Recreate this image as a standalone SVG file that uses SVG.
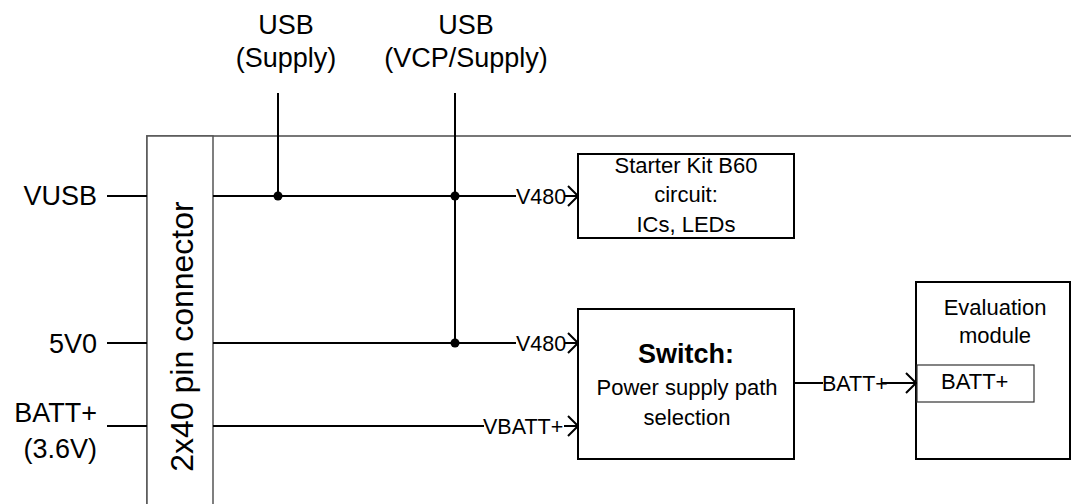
<svg xmlns="http://www.w3.org/2000/svg" width="1071" height="504" viewBox="0 0 1071 504">
<defs>
<style>
text{font-family:"Liberation Sans",Arial,sans-serif;fill:#000}
.big{font-size:27px}
.mid{font-size:22px}
.sm{font-size:21.5px}
.w{stroke:#000;stroke-width:2;fill:none}
.box{stroke:#000;stroke-width:2;fill:#fff}
.dot{fill:#000}
</style>
<marker id="arr" viewBox="0 0 12 22" refX="11" refY="11" markerWidth="12" markerHeight="22" markerUnits="userSpaceOnUse" orient="auto">
<path d="M1,1 L11,11 L1,21" fill="none" stroke="#000" stroke-width="2"/>
</marker>
</defs>
<rect width="1071" height="504" fill="#fff"/>
<g id="board">
<path d="M147,504 V136 H1071" fill="none" stroke="#777" stroke-width="2"/>
</g>
<g id="connector">
<rect x="147" y="136" width="66" height="380" fill="#fff" stroke="#555" stroke-width="1.5"/>
<text transform="translate(193,336.5) rotate(-90)" text-anchor="middle" style="font-size:32px">2x40 pin connector</text>
</g>
<g id="inputs">
<text class="big" x="97" y="205" text-anchor="end">VUSB</text>
<text class="big" x="97" y="353" text-anchor="end">5V0</text>
<text class="big" x="97" y="422" text-anchor="end">BATT+</text>
<text class="big" x="97" y="458" text-anchor="end">(3.6V)</text>
</g>
<g id="usb1">
<text class="big" x="286" y="34" text-anchor="middle">USB</text>
<text class="big" x="286" y="67" text-anchor="middle">(Supply)</text>
</g>
<g id="usb2">
<text class="big" x="466" y="34" text-anchor="middle">USB</text>
<text class="big" x="466" y="67" text-anchor="middle">(VCP/Supply)</text>
</g>
<g id="starter">
<rect class="box" x="578" y="154" width="216" height="84"/>
<text class="mid" x="686" y="173" text-anchor="middle">Starter Kit B60</text>
<text class="mid" x="686" y="202" text-anchor="middle">circuit:</text>
<text class="mid" x="686" y="232" text-anchor="middle">ICs, LEDs</text>
</g>
<g id="switch">
<rect class="box" x="578" y="309" width="216" height="150"/>
<text x="686" y="363" text-anchor="middle" style="font-size:27px;font-weight:bold">Switch:</text>
<text class="mid" x="687" y="395" text-anchor="middle">Power supply path</text>
<text class="mid" x="687" y="425" text-anchor="middle">selection</text>
</g>
<g id="evaluation">
<rect class="box" x="916" y="282" width="154" height="177"/>
<text class="mid" x="995" y="315" text-anchor="middle">Evaluation</text>
<text class="mid" x="995" y="343" text-anchor="middle">module</text>
<rect x="917" y="365" width="117" height="37" fill="#fff" stroke="#333" stroke-width="1.2"/>
<text class="mid" x="941" y="389">BATT+</text>
</g>
<g id="connectors">
<line class="w" x1="107" y1="196" x2="147" y2="196"/>
<line class="w" x1="107" y1="343" x2="147" y2="343"/>
<line class="w" x1="107" y1="426" x2="147" y2="426"/>
<line class="w" x1="278" y1="93" x2="278" y2="196"/>
<line class="w" x1="455" y1="93" x2="455" y2="343"/>
<line class="w" x1="213" y1="196" x2="516" y2="196"/>
<line class="w" x1="213" y1="343" x2="516" y2="343"/>
<line class="w" x1="213" y1="426" x2="484" y2="426"/>
<line class="w" x1="794" y1="383" x2="823" y2="383"/>
<path class="w" d="M564,196 H578" marker-end="url(#arr)"/>
<path class="w" d="M564,343 H578" marker-end="url(#arr)"/>
<path class="w" d="M564,426 H578" marker-end="url(#arr)"/>
<path class="w" d="M882,383 H916" marker-end="url(#arr)"/>
<circle class="dot" cx="278" cy="196" r="4.5"/>
<circle class="dot" cx="455" cy="196" r="4.5"/>
<circle class="dot" cx="455" cy="343" r="4.5"/>
<text class="sm" x="516" y="204">V480</text>
<text class="sm" x="516" y="351">V480</text>
<text class="sm" x="483" y="434">VBATT+</text>
<text class="sm" x="822" y="391">BATT+</text>
</g>
</svg>
